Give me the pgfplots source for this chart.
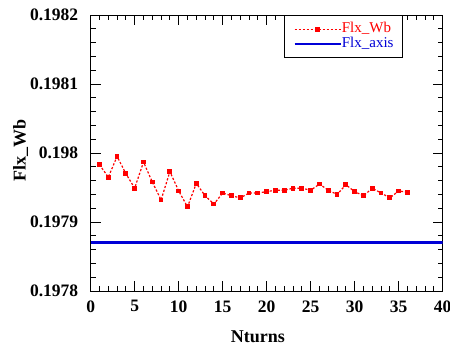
\documentclass[border=0pt]{standalone}
\usepackage{fontspec}
\setmainfont{Liberation Serif}
\usepackage{pgfplots}
\pgfplotsset{compat=1.18}
\definecolor{myred}{RGB}{255,0,0}
\definecolor{myblue}{RGB}{0,0,215}
\begin{document}
\begin{tikzpicture}
\begin{axis}[
  scale only axis, width=352pt, height=276pt,
  at={(0,0)}, anchor=south west,
  xmin=0, xmax=40, ymin=0.1978, ymax=0.1982,
  xtick distance=5, minor x tick num=4,
  ytick={0.1978,0.1979,0.198,0.1981,0.1982},
  yticklabels={0.1978,0.1979,0.198,0.1981,0.1982},
  minor y tick num=4,
  scaled y ticks=false,
  tick align=inside,
  major tick length=10pt, minor tick length=5pt,
  axis line style={line width=1pt},
  every tick/.style={black, line width=0.8pt},
  /pgf/number format/assume math mode=true,
  ticklabel style={font=\bfseries\fontsize{17.5}{17.5}\selectfont},
  yticklabel style={xshift=-9pt},
  xticklabel style={yshift=-6pt},
  xlabel={Nturns}, ylabel={Flx\_Wb},
  label style={font=\bfseries\fontsize{18}{18}\selectfont},
  xlabel style={at={(axis description cs:0.475,0)}, anchor=center, yshift=-46pt},
  ylabel style={at={(axis description cs:-0.1994,0.509)}, anchor=center},
  legend style={at={(axis description cs:0.549,1)}, anchor=north west,
    draw=black, line width=0.8pt, inner xsep=9pt, inner ysep=6.5pt,
    font=\fontsize{15}{15}\selectfont, row sep=0pt,
    nodes={inner sep=0pt, text height=11pt, text depth=3.6pt}},
  legend cell align=left,
  legend image code/.code={\draw[mark repeat=2,mark phase=2,#1] plot coordinates {(0pt,0pt) (23pt,0pt) (46pt,0pt)};},
]
\addplot[myred, line width=1.2pt, dash pattern=on 2.2pt off 1.8pt, mark=square*, mark size=1.8pt, mark options={solid}] coordinates {
(1,0.197983) (2,0.197965) (3,0.197995) (4,0.197970) (5,0.197949)
(6,0.197987) (7,0.197958) (8,0.197932) (9,0.197973) (10,0.197945)
(11,0.197922) (12,0.197956) (13,0.197938) (14,0.197926) (15,0.197942)
(16,0.197938) (17,0.197935) (18,0.197942) (19,0.197942) (20,0.197944)
(21,0.197946) (22,0.197946) (23,0.197949) (24,0.197949) (25,0.197946)
(26,0.197955) (27,0.197946) (28,0.197940) (29,0.197954) (30,0.197944)
(31,0.197938) (32,0.197949) (33,0.197942) (34,0.197935) (35,0.197945)
(36,0.197943)
};
\addlegendentry{\textcolor{myred}{Flx\_Wb}}
\addplot[myblue, line width=2.5pt] coordinates {(0,0.19787) (40,0.19787)};
\addlegendentry{\textcolor{myblue}{Flx\_axis}}
\end{axis}
\pgfresetboundingbox
\path (-90.7pt,-58pt) rectangle (359.3pt,291pt);
\end{tikzpicture}
\end{document}
